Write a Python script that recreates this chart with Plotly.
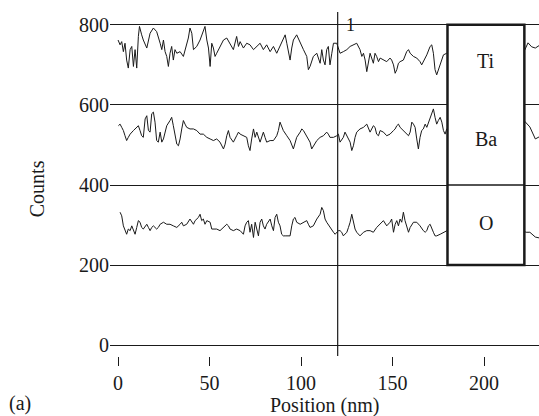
import plotly.graph_objects as go

ti_x = [0, 1.1, 2.0, 2.9, 3.8, 4.7, 5.6, 6.6, 7.5, 8.4, 9.3, 10.2, 11.1, 11.7, 12.9, 13.8, 15.7, 17.5, 19.3, 21.1,
        23.0, 23.9, 24.8, 25.7, 26.6, 27.5, 28.4, 29.3, 30.2, 31.1, 32.1, 33.9, 35.7, 37.5, 38.4, 39.3, 40.3, 41.2,
        43.0, 44.8, 46.6, 47.5, 48.5, 49.4, 50.3, 51.2, 52.1, 53.0, 53.9, 55.7, 57.6, 59.4, 61.2, 63.0, 64.8, 65.8,
        66.7, 68.5, 70.3, 72.1, 74.0, 75.8, 77.6, 79.4, 81.2, 83.1, 84.9, 86.7, 88.5, 90.3, 91.3, 92.2, 94.0, 94.9,
        95.8, 97.6, 99.5, 101.3, 103.1, 104.0, 104.9, 106.7, 108.6, 110.4, 111.3, 112.2, 113.1, 114.0, 114.9, 115.8,
        116.8, 117.7, 119.5, 120.4, 121.3, 123.1, 125.0, 126.8, 128.6, 130.4, 132.2, 133.2, 134.1, 135.0, 135.9,
        136.8, 137.7, 139.5, 140.4, 141.3, 142.3, 143.2, 145.0, 146.8, 148.6, 149.5, 150.5, 151.4, 152.3, 153.2,
        154.1, 155.9, 157.7, 158.7, 159.6, 161.4, 163.2, 165.0, 165.9, 166.8, 168.7, 170.5, 171.4, 172.3, 173.2,
        174.1, 175.0, 176.0, 177.8, 179.6, 181.4, 186, 192, 200, 208, 215, 220, 222, 224, 226, 228, 230]
ti_y = [762, 750, 758, 733, 754, 712, 692, 738, 746, 696, 738, 692, 771, 796, 775, 762, 742, 779, 792, 783,
        754, 738, 762, 733, 721, 696, 729, 746, 712, 738, 729, 733, 721, 750, 767, 792, 779, 738,
        746, 762, 783, 796, 762, 742, 696, 754, 742, 721, 729, 746, 762, 767, 754, 738, 771, 746,
        758, 742, 754, 750, 738, 746, 754, 738, 750, 733, 746, 729, 746, 762, 775, 754, 712, 742,
        762, 775, 754, 738, 721, 688, 696, 721, 729, 704, 738, 712, 700, 738, 746, 700,
        729, 754, 754, 742, 729, 733, 738, 746, 750, 754, 738, 721, 729, 712, 683,
        712, 729, 704, 729, 721, 708, 717, 712, 708, 717, 712, 700, 679, 688, 704,
        708, 712, 733, 738, 729, 721, 717, 708, 700, 708, 725, 746, 750, 729, 688,
        675, 688, 704, 725, 729, 721, 735, 748, 740, 752, 738, 730, 735, 755, 745, 742, 748]

ba_x = [0.2, 1.1, 2.0, 2.9, 3.8, 4.7, 5.6, 6.6, 8.4, 10.2, 11.1, 12.0, 12.9, 13.8, 14.8, 15.7, 16.6, 17.5, 18.4,
        19.3, 20.2, 21.1, 22.0, 23.0, 23.9, 24.8, 26.6, 28.4, 29.3, 30.2, 31.1, 32.1, 33.0, 33.9, 34.8, 35.7,
        36.6, 37.5, 39.3, 41.2, 43.0, 44.8, 46.6, 48.5, 50.3, 52.1, 53.9, 55.7, 57.6, 58.5, 59.4, 60.3, 61.2,
        63.0, 64.8, 65.8, 66.7, 68.5, 70.3, 71.2, 72.1, 73.0, 74.0, 74.9, 75.8, 77.6, 78.5, 79.4, 80.3, 81.2,
        83.1, 84.9, 86.7, 87.6, 88.5, 89.4, 90.3, 92.2, 94.0, 95.8, 96.7, 97.6, 99.5, 100.4, 101.3, 103.1,
        104.9, 105.8, 106.7, 108.6, 110.4, 112.2, 114.0, 114.9, 115.8, 117.7, 119.5, 120.4, 121.3, 123.1,
        124.0, 125.0, 126.8, 127.7, 128.6, 129.5, 130.4, 132.2, 134.1, 135.9, 136.8, 137.7, 139.5, 140.4,
        141.3, 142.3, 143.2, 145.0, 146.8, 148.6, 150.5, 151.4, 152.3, 153.2, 154.1, 155.9, 157.7, 158.7,
        159.6, 160.5, 161.4, 162.3, 163.2, 164.1, 165.0, 165.9, 166.8, 167.8, 168.7, 169.6, 170.5, 171.4,
        172.3, 173.2, 174.1, 175.0, 176.0, 176.9, 177.8, 178.7, 179.6, 181.4, 186, 192, 200, 208, 215, 220,
        222, 225, 228, 230]
ba_y = [548, 552, 544, 536, 523, 511, 519, 527, 536, 544, 548, 536, 523, 519, 565, 573, 536, 532, 578,
        582, 557, 511, 507, 532, 507, 515, 548, 561, 569, 548, 523, 502, 498, 515, 540, 561,
        552, 544, 540, 540, 536, 527, 527, 519, 515, 511, 515, 507, 490, 502, 523, 536, 519,
        507, 523, 532, 527, 523, 519, 498, 486, 515, 540, 519, 532, 507, 523, 532, 519, 507,
        511, 511, 523, 536, 557, 548, 536, 523, 511, 490, 502, 519, 532, 540, 536, 523,
        507, 490, 498, 511, 519, 523, 532, 527, 519, 519, 523, 527, 507, 519,
        532, 523, 507, 486, 498, 519, 532, 540, 544, 552, 544, 532, 548, 544,
        527, 523, 536, 532, 523, 527, 536, 540, 548, 552, 544, 536, 527, 523,
        532, 557, 552, 544, 515, 490, 519, 536, 540, 552, 544, 557, 565, 578,
        590, 569, 552, 561, 569, 557, 536, 527, 540, 536, 530, 545, 525, 540, 535, 545,
        560, 545, 515, 520]

o_x = [1.1, 2.0, 2.9, 3.8, 4.7, 5.6, 6.6, 7.5, 8.4, 9.3, 10.2, 11.1, 12.0, 12.9, 13.8, 15.7, 16.6, 17.5, 18.4,
       19.3, 21.1, 22.0, 23.0, 24.8, 26.6, 28.4, 30.2, 32.1, 33.9, 34.8, 35.7, 37.5, 39.3, 40.3, 41.2, 42.1,
       43.9, 44.8, 45.7, 46.6, 47.5, 48.5, 50.3, 51.2, 52.1, 53.9, 55.7, 57.6, 59.4, 60.3, 61.2, 63.0, 64.8,
       66.7, 67.6, 68.5, 69.4, 70.3, 71.2, 72.1, 73.0, 74.0, 74.9, 75.8, 76.7, 77.6, 78.5, 79.4, 80.3, 81.2,
       83.1, 84.0, 84.9, 85.8, 86.7, 87.6, 88.5, 89.4, 90.3, 91.3, 92.2, 94.0, 94.9, 95.8, 96.7, 97.6, 99.5,
       101.3, 103.1, 104.0, 104.9, 106.7, 108.6, 110.4, 111.3, 112.2, 113.1, 114.0, 115.8, 116.8, 117.7,
       118.6, 119.5, 120.4, 121.3, 122.2, 123.1, 124.0, 125.0, 125.9, 126.8, 127.7, 128.6, 129.5, 130.4,
       132.2, 134.1, 135.9, 137.7, 139.5, 141.3, 143.2, 144.1, 145.0, 146.8, 148.6, 149.5, 150.5, 151.4,
       152.3, 153.2, 154.1, 155.0, 155.9, 156.8, 157.7, 158.7, 159.6, 161.4, 163.2, 165.0, 166.8, 167.8,
       168.7, 169.6, 170.5, 171.4, 172.3, 173.2, 174.1, 176.0, 177.8, 179.6, 181.4, 186, 192, 200, 208,
       215, 220, 222, 223, 225, 228, 230]
o_y = [332, 323, 298, 286, 277, 290, 286, 298, 286, 277, 294, 311, 307, 294, 290, 302, 294, 286, 294,
       298, 290, 294, 302, 307, 302, 302, 298, 294, 302, 307, 298, 302, 315, 307, 302, 311,
       319, 327, 311, 315, 302, 311, 307, 290, 290, 290, 286, 294, 302, 298, 290, 286, 290,
       286, 282, 277, 298, 307, 311, 282, 302, 269, 307, 286, 273, 307, 315, 298, 290, 302,
       315, 298, 286, 319, 327, 307, 298, 277, 273, 273, 273, 273, 298, 315, 319, 307, 302,
       307, 311, 302, 294, 298, 315, 327, 344, 336, 315, 307, 294, 286, 282,
       277, 282, 286, 286, 282, 273, 277, 282, 294, 307, 327, 311, 290, 282,
       273, 282, 286, 286, 282, 294, 302, 307, 311, 298, 307, 315, 282, 302,
       311, 298, 315, 307, 332, 311, 294, 282, 294, 307, 307, 298, 286, 282,
       286, 298, 302, 294, 282, 273, 273, 277, 282, 286, 290, 295, 285, 300, 290,
       295, 288, 285, 282, 282, 270, 268]

x_ticks = [0, 50, 100, 150, 200]
y_ticks = [0, 200, 400, 600, 800]
marker_x = 120
box_x0, box_x1 = 180, 222
box_y0, box_y1 = 200, 800
box_divider = 400
box_labels = ["Ti", "Ba", "O"]
box_label_y = [710, 515, 305]

FONT = "Liberation Serif, Times New Roman, serif"
INK = "#1a1a1a"
FS = 20

fig = go.Figure()
for xs, ys in [(ti_x, ti_y), (ba_x, ba_y), (o_x, o_y)]:
    fig.add_trace(go.Scatter(x=xs, y=ys, mode="lines",
                             line=dict(color=INK, width=1), showlegend=False, hoverinfo="skip"))

shapes = [
    dict(type="line", xref="x", yref="paper", x0=marker_x, x1=marker_x, y0=0, y1=1,
         line=dict(color=INK, width=1.2), layer="above"),
    dict(type="rect", xref="x", yref="y", x0=box_x0, x1=box_x1, y0=box_y0, y1=box_y1,
         fillcolor="white", line=dict(color=INK, width=2.5), layer="above"),
    dict(type="line", xref="x", yref="y", x0=box_x0, x1=box_x1, y0=box_divider, y1=box_divider,
         line=dict(color=INK, width=1.5), layer="above"),
]

annotations = [
    dict(x=marker_x + 7, y=800, xref="x", yref="y", text="1", showarrow=False,
         font=dict(family=FONT, size=FS - 2, color=INK), xanchor="center", yanchor="middle"),
    dict(x=0.5, y=-0.145, xref="paper", yref="paper", text="Position (nm)",
         showarrow=False, font=dict(family=FONT, size=FS, color=INK), xanchor="center", yanchor="middle"),
    dict(x=-0.17, y=0.485, xref="paper", yref="paper", text="Counts", textangle=-90,
         showarrow=False, font=dict(family=FONT, size=FS, color=INK), xanchor="center", yanchor="middle"),
    dict(x=-0.21, y=-0.137, xref="paper", yref="paper", text="(a)",
         showarrow=False, font=dict(family=FONT, size=FS, color=INK), xanchor="center", yanchor="middle"),
]
for lab, ly in zip(box_labels, box_label_y):
    annotations.append(dict(x=(box_x0 + box_x1) / 2, y=ly, xref="x", yref="y", text=lab,
                            showarrow=False, font=dict(family=FONT, size=FS, color=INK),
                            xanchor="center", yanchor="middle"))

fig.update_layout(
    width=539, height=416,
    margin=dict(l=110, r=0, t=12, b=60, autoexpand=False),
    paper_bgcolor="white", plot_bgcolor="white",
    shapes=shapes, annotations=annotations,
    xaxis=dict(range=[-4.4, 230], tickvals=x_ticks, ticks="outside", ticklen=9, tickwidth=1,
               tickcolor=INK, showgrid=False, zeroline=False, showline=False,
               tickfont=dict(family=FONT, size=FS, color=INK)),
    yaxis=dict(range=[-27, 832], tickvals=y_ticks, ticks="", showgrid=True, gridcolor=INK,
               gridwidth=1.2, zeroline=False, showline=False,
               tickfont=dict(family=FONT, size=FS, color=INK)),
)

fig.write_html("out.html", config={"displayModeBar": False},
               post_script="document.body.style.margin='0';document.body.style.overflow='hidden';")
